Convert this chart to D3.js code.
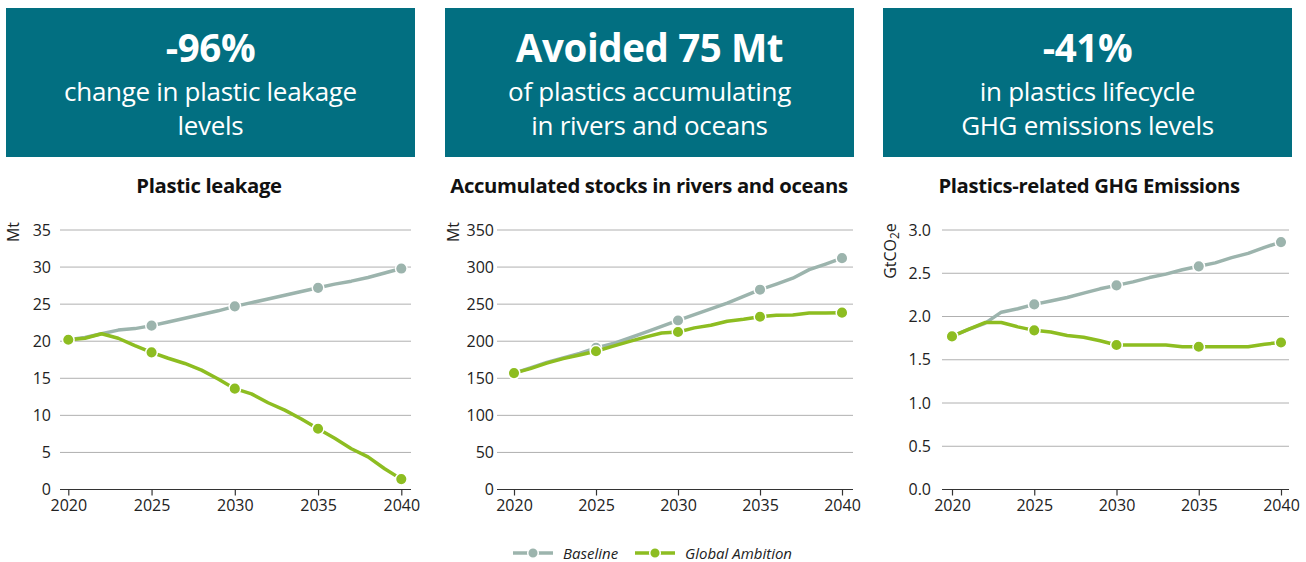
<!DOCTYPE html>
<html>
<head>
<meta charset="utf-8">
<script src="https://cdn.jsdelivr.net/npm/d3@7"></script>
<style>
  html, body { margin: 0; padding: 0; background: #fff; }
  svg { display: block; font-family: "Open Sans", "Noto Sans", sans-serif; }
</style>
</head>
<body>
<svg id="chart" width="1306" height="562"></svg>
<script>
// Years plotted on every panel
const years = d3.range(2020, 2041);
const yearTicks = [2020, 2025, 2030, 2035, 2040];

// Plastic leakage (Mt)
const leakageBaseline = [20.2, 20.5, 21.0, 21.5, 21.7, 22.1, 22.6, 23.1, 23.6, 24.1, 24.7,
                         25.2, 25.7, 26.2, 26.7, 27.2, 27.7, 28.1, 28.6, 29.2, 29.8];
const leakageAmbition = [20.2, 20.4, 21.0, 20.4, 19.4, 18.5, 17.7, 17.0, 16.1, 14.9, 13.6,
                         12.9, 11.7, 10.7, 9.5, 8.2, 6.9, 5.5, 4.4, 2.8, 1.4];
const leakageTicks = [0, 5, 10, 15, 20, 25, 30, 35];

// Accumulated stocks in rivers and oceans (Mt)
const stocksBaseline = [157, 164, 171.5, 177.5, 183.5, 191, 196.5, 204, 212, 220, 228,
                        236, 243.5, 251.5, 260.5, 269.5, 277, 285, 296.5, 304, 312];
const stocksAmbition = [157, 163, 170.5, 176.5, 181.5, 186.5, 193, 199.5, 205.5, 211, 212.5,
                        218, 221.5, 227, 229.5, 233, 235, 235.5, 238, 238, 238.5];
const stocksTicks = [0, 50, 100, 150, 200, 250, 300, 350];

// Plastics-related GHG emissions (GtCO2e)
const ghgBaseline = [1.77, 1.85, 1.92, 2.05, 2.09, 2.14, 2.18, 2.22, 2.27, 2.32, 2.36,
                     2.40, 2.45, 2.49, 2.54, 2.58, 2.62, 2.68, 2.73, 2.80, 2.86];
const ghgAmbition = [1.77, 1.85, 1.93, 1.93, 1.88, 1.84, 1.82, 1.78, 1.76, 1.72, 1.67,
                     1.67, 1.67, 1.67, 1.65, 1.65, 1.65, 1.65, 1.65, 1.68, 1.70];
const ghgTicks = [0, 0.5, 1.0, 1.5, 2.0, 2.5, 3.0];

// Headline boxes
const headlines = ["-96%", "Avoided 75 Mt", "-41%"];
const headlineSubs = [
  ["change in plastic leakage", "levels"],
  ["of plastics accumulating", "in rivers and oceans"],
  ["in plastics lifecycle", "GHG emissions levels"]
];

const chartTitles = ["Plastic leakage", "Accumulated stocks in rivers and oceans", "Plastics-related GHG Emissions"];
const seriesNames = ["Baseline", "Global Ambition"];

const COLORS = { banner: "#026f81", baseline: "#9cb4ad", ambition: "#8dbd21", grid: "#b0b0b0", axis: "#333" };

const panels = [
  { title: chartTitles[0], unit: "Mt", base: leakageBaseline, amb: leakageAmbition, ticks: leakageTicks, fmt: d3.format("d"),
    box: [6, 415], plot: { x0: 60, x1: 411, px0: 68.3, px1: 401.3 }, tickRight: 51, titleX: 209, unitX: 19, unitY: 232 },
  { title: chartTitles[1], unit: "Mt", base: stocksBaseline, amb: stocksAmbition, ticks: stocksTicks, fmt: d3.format("d"),
    box: [445, 854], plot: { x0: 497, x1: 853, px0: 514, px1: 842 }, tickRight: 494, titleX: 649, unitX: 459, unitY: 232 },
  { title: chartTitles[2], unit: "GtCO2e", base: ghgBaseline, amb: ghgAmbition, ticks: ghgTicks, fmt: d3.format(".1f"),
    box: [883, 1292], plot: { x0: 942, x1: 1289, px0: 952, px1: 1281 }, tickRight: 931, titleX: 1089, unitX: 896, unitY: 251 }
];

const svg = d3.select("#chart");
const yTop = 230, yBottom = 489.5;

panels.forEach((p, i) => {
  // Headline banner
  const g = svg.append("g");
  const cx = (p.box[0] + p.box[1]) / 2;
  g.append("rect").attr("x", p.box[0]).attr("y", 8).attr("width", p.box[1] - p.box[0]).attr("height", 149)
    .attr("fill", COLORS.banner);
  g.append("text").attr("x", cx).attr("y", 61.5).attr("text-anchor", "middle")
    .attr("fill", "#fff").attr("font-weight", 700).attr("font-size", 38.5).attr("letter-spacing", -0.4)
    .text(headlines[i]);
  headlineSubs[i].forEach((line, j) => {
    g.append("text").attr("x", cx).attr("y", 101 + j * 34).attr("text-anchor", "middle")
      .attr("fill", "#fff").attr("font-size", 26).attr("letter-spacing", -0.3).text(line);
  });

  // Chart title
  g.append("text").attr("x", p.titleX).attr("y", 193).attr("text-anchor", "middle")
    .attr("font-weight", 700).attr("font-size", 20.3).attr("letter-spacing", -0.35).attr("fill", "#111")
    .text(p.title);

  const x = d3.scaleLinear().domain([2020, 2040]).range([p.plot.px0, p.plot.px1]);
  const y = d3.scaleLinear().domain([0, d3.max(p.ticks)]).range([yBottom, yTop]);

  // Gridlines
  g.append("g").selectAll("line").data(p.ticks.filter(t => t > 0)).join("line")
    .attr("x1", p.plot.x0).attr("x2", p.plot.x1)
    .attr("y1", d => y(d)).attr("y2", d => y(d))
    .attr("stroke", COLORS.grid).attr("stroke-width", 1);

  // Y tick labels
  const yAxis = d3.axisLeft(y).tickValues(p.ticks).tickFormat(p.fmt).tickSize(0).tickPadding(0);
  const ya = g.append("g").attr("transform", `translate(${p.tickRight},0)`).call(yAxis);
  ya.select(".domain").remove();
  ya.selectAll("text").attr("font-size", 16).attr("fill", "#222").attr("font-family", "Open Sans, sans-serif");

  // X axis
  const xAxis = d3.axisBottom(x).tickValues(yearTicks).tickFormat(d3.format("d")).tickSize(6).tickSizeOuter(0).tickPadding(4);
  const xa = g.append("g").attr("transform", `translate(0,${yBottom})`).call(xAxis);
  xa.select(".domain").attr("d", `M${p.plot.x0},0H${p.plot.x1}`).attr("stroke", COLORS.axis).attr("stroke-width", 1.2);
  xa.selectAll(".tick line").attr("stroke", COLORS.axis).attr("stroke-width", 1.2);
  xa.selectAll("text").attr("font-size", 16).attr("fill", "#222").attr("font-family", "Open Sans, sans-serif");

  // Unit label
  const unit = g.append("text").attr("transform", `translate(${p.unitX},${p.unitY}) rotate(-90)`)
    .attr("text-anchor", "middle").attr("font-size", 16).attr("fill", "#222");
  if (p.unit === "GtCO2e") {
    unit.append("tspan").text("GtCO");
    unit.append("tspan").attr("font-size", 12).attr("dy", 3).text("2");
    unit.append("tspan").attr("dy", -3).text("e");
  } else {
    unit.text(p.unit);
  }

  // Series lines and markers
  const line = d3.line().x((d, k) => x(years[k])).y(d => y(d));
  [[p.base, COLORS.baseline], [p.amb, COLORS.ambition]].forEach(([vals, col]) => {
    g.append("path").datum(vals).attr("d", line).attr("fill", "none")
      .attr("stroke", col).attr("stroke-width", 3.5).attr("stroke-linejoin", "round");
    g.append("g").selectAll("circle")
      .data(yearTicks.map(yr => [yr, vals[years.indexOf(yr)]])).join("circle")
      .attr("cx", d => x(d[0])).attr("cy", d => y(d[1])).attr("r", 5.8)
      .attr("fill", col).attr("stroke", "#fff").attr("stroke-width", 1.5);
  });
});

// Legend
const legend = svg.append("g").attr("transform", "translate(0,553)");
const legendItems = [
  { name: seriesNames[0], color: COLORS.baseline, x: 513 },
  { name: seriesNames[1], color: COLORS.ambition, x: 635 }
];
legendItems.forEach(it => {
  legend.append("line").attr("x1", it.x).attr("x2", it.x + 40).attr("y1", 0).attr("y2", 0)
    .attr("stroke", it.color).attr("stroke-width", 3.5);
  legend.append("circle").attr("cx", it.x + 20).attr("cy", 0).attr("r", 5.3)
    .attr("fill", it.color).attr("stroke", "#fff").attr("stroke-width", 1.5);
  legend.append("text").attr("x", it.x + 50).attr("y", 5.5).attr("font-size", 15)
    .attr("font-style", "italic").attr("fill", "#222").text(it.name);
});
</script>
</body>
</html>
